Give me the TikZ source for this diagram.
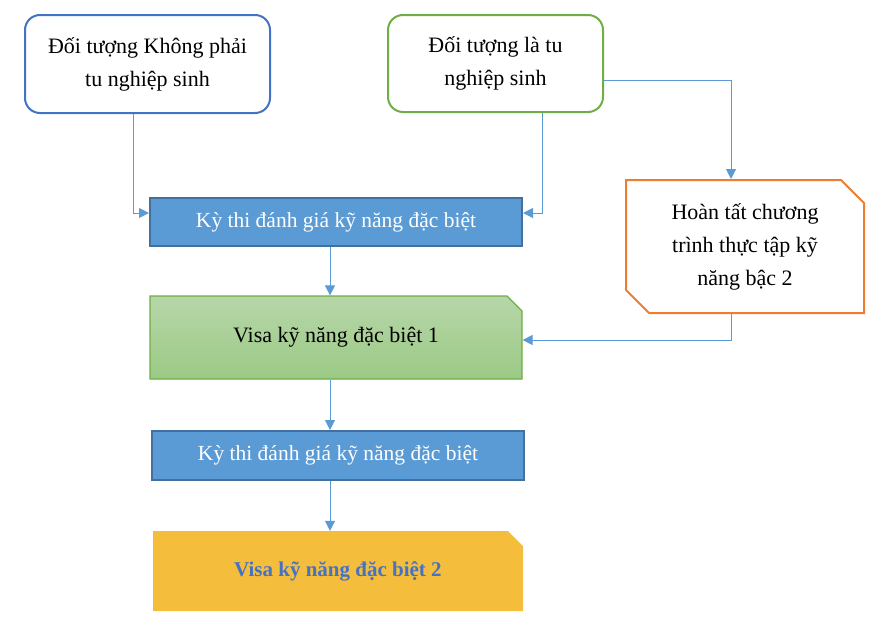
\documentclass[tikz,border=0pt]{standalone}
\usepackage{fontspec}
\setmainfont{Liberation Serif}
\usetikzlibrary{arrows.meta,shapes.misc}
\definecolor{bdblue}{HTML}{4472C4}
\definecolor{bdgreen}{HTML}{70AD47}
\definecolor{fillblue}{HTML}{5B9BD5}
\definecolor{darkblue}{HTML}{41719C}
\definecolor{gtop}{HTML}{B7D6A9}
\definecolor{gbot}{HTML}{9BCA85}
\definecolor{gold}{HTML}{F5BD3C}
\definecolor{orangebd}{HTML}{ED7D31}
\definecolor{conncol}{HTML}{5B9BD5}
\tikzset{
  txt/.style={font=\fontsize{22}{33}\selectfont, align=center, text=black},
  roundbox/.style={txt, draw, line width=2pt, rounded corners=15pt, fill=white},
  bluebox/.style={font=\fontsize{21.5}{30}\selectfont, text=white, draw=darkblue, line width=2pt, fill=fillblue, minimum width=372pt, minimum height=48pt},
  snipbox/.style={chamfered rectangle, chamfered rectangle corners=north east, chamfered rectangle xsep=12pt, chamfered rectangle angle=45},
  conn/.style={draw=conncol, line width=1pt, -{Triangle[length=10pt,width=10pt]}}
}
\begin{document}
\begin{tikzpicture}[x=1pt,y=-1pt]
\useasboundingbox (0,0) rectangle (891,629);
\node[roundbox, draw=bdblue, minimum width=245pt, minimum height=98pt] (A) at (147.5,64) {Đối tượng Không phải\\tu nghiệp sinh};
\node[roundbox, draw=bdgreen, minimum width=215pt, minimum height=97pt] (B) at (495.5,63.5) {Đối tượng là tu\\nghiệp sinh};
\node[bluebox] (K1) at (336,222) {Kỳ thi đánh giá kỹ năng đặc biệt};
\node[snipbox, txt, draw=bdgreen, line width=1.2pt, top color=gtop, bottom color=gbot, minimum width=372pt, minimum height=83pt] (V1) at (336,337.5) {Visa kỹ năng đặc biệt 1};
\node[bluebox, minimum height=49pt] (K2) at (338,455.5) {Kỳ thi đánh giá kỹ năng đặc biệt};
\node[snipbox, fill=gold, minimum width=370pt, minimum height=80pt, font=\fontsize{21}{30}\selectfont\bfseries, text=bdblue] (V2) at (338,571) {Visa kỹ năng đặc biệt 2};
\node[chamfered rectangle, chamfered rectangle corners={north east,south west}, chamfered rectangle xsep=20pt, chamfered rectangle angle=45, txt, draw=orangebd, line width=2pt, fill=white, minimum width=238pt, minimum height=133pt] (H) at (745,246.5) {Hoàn tất chương\\trình thực tập kỹ\\năng bậc 2};
\draw[conn] ([xshift=-14.5pt]A.south) |- ([yshift=9pt]K1.west);
\draw[conn] ([xshift=46.5pt]B.south) |- ([yshift=9pt]K1.east);
\draw[conn] ([yshift=-16.5pt]B.east) -| ([xshift=-14pt]H.north);
\draw[conn] ([xshift=-14pt]H.south) |- ([yshift=-2.5pt]V1.east);
\draw[conn] ([xshift=-6pt]K1.south) -- ([xshift=-6pt]K1.south |- V1.north);
\draw[conn] ([xshift=-6pt]V1.south) -- ([xshift=-6pt]V1.south |- K2.north);
\draw[conn] ([xshift=-8pt]K2.south) -- ([xshift=-8pt]K2.south |- V2.north);
\end{tikzpicture}
\end{document}
